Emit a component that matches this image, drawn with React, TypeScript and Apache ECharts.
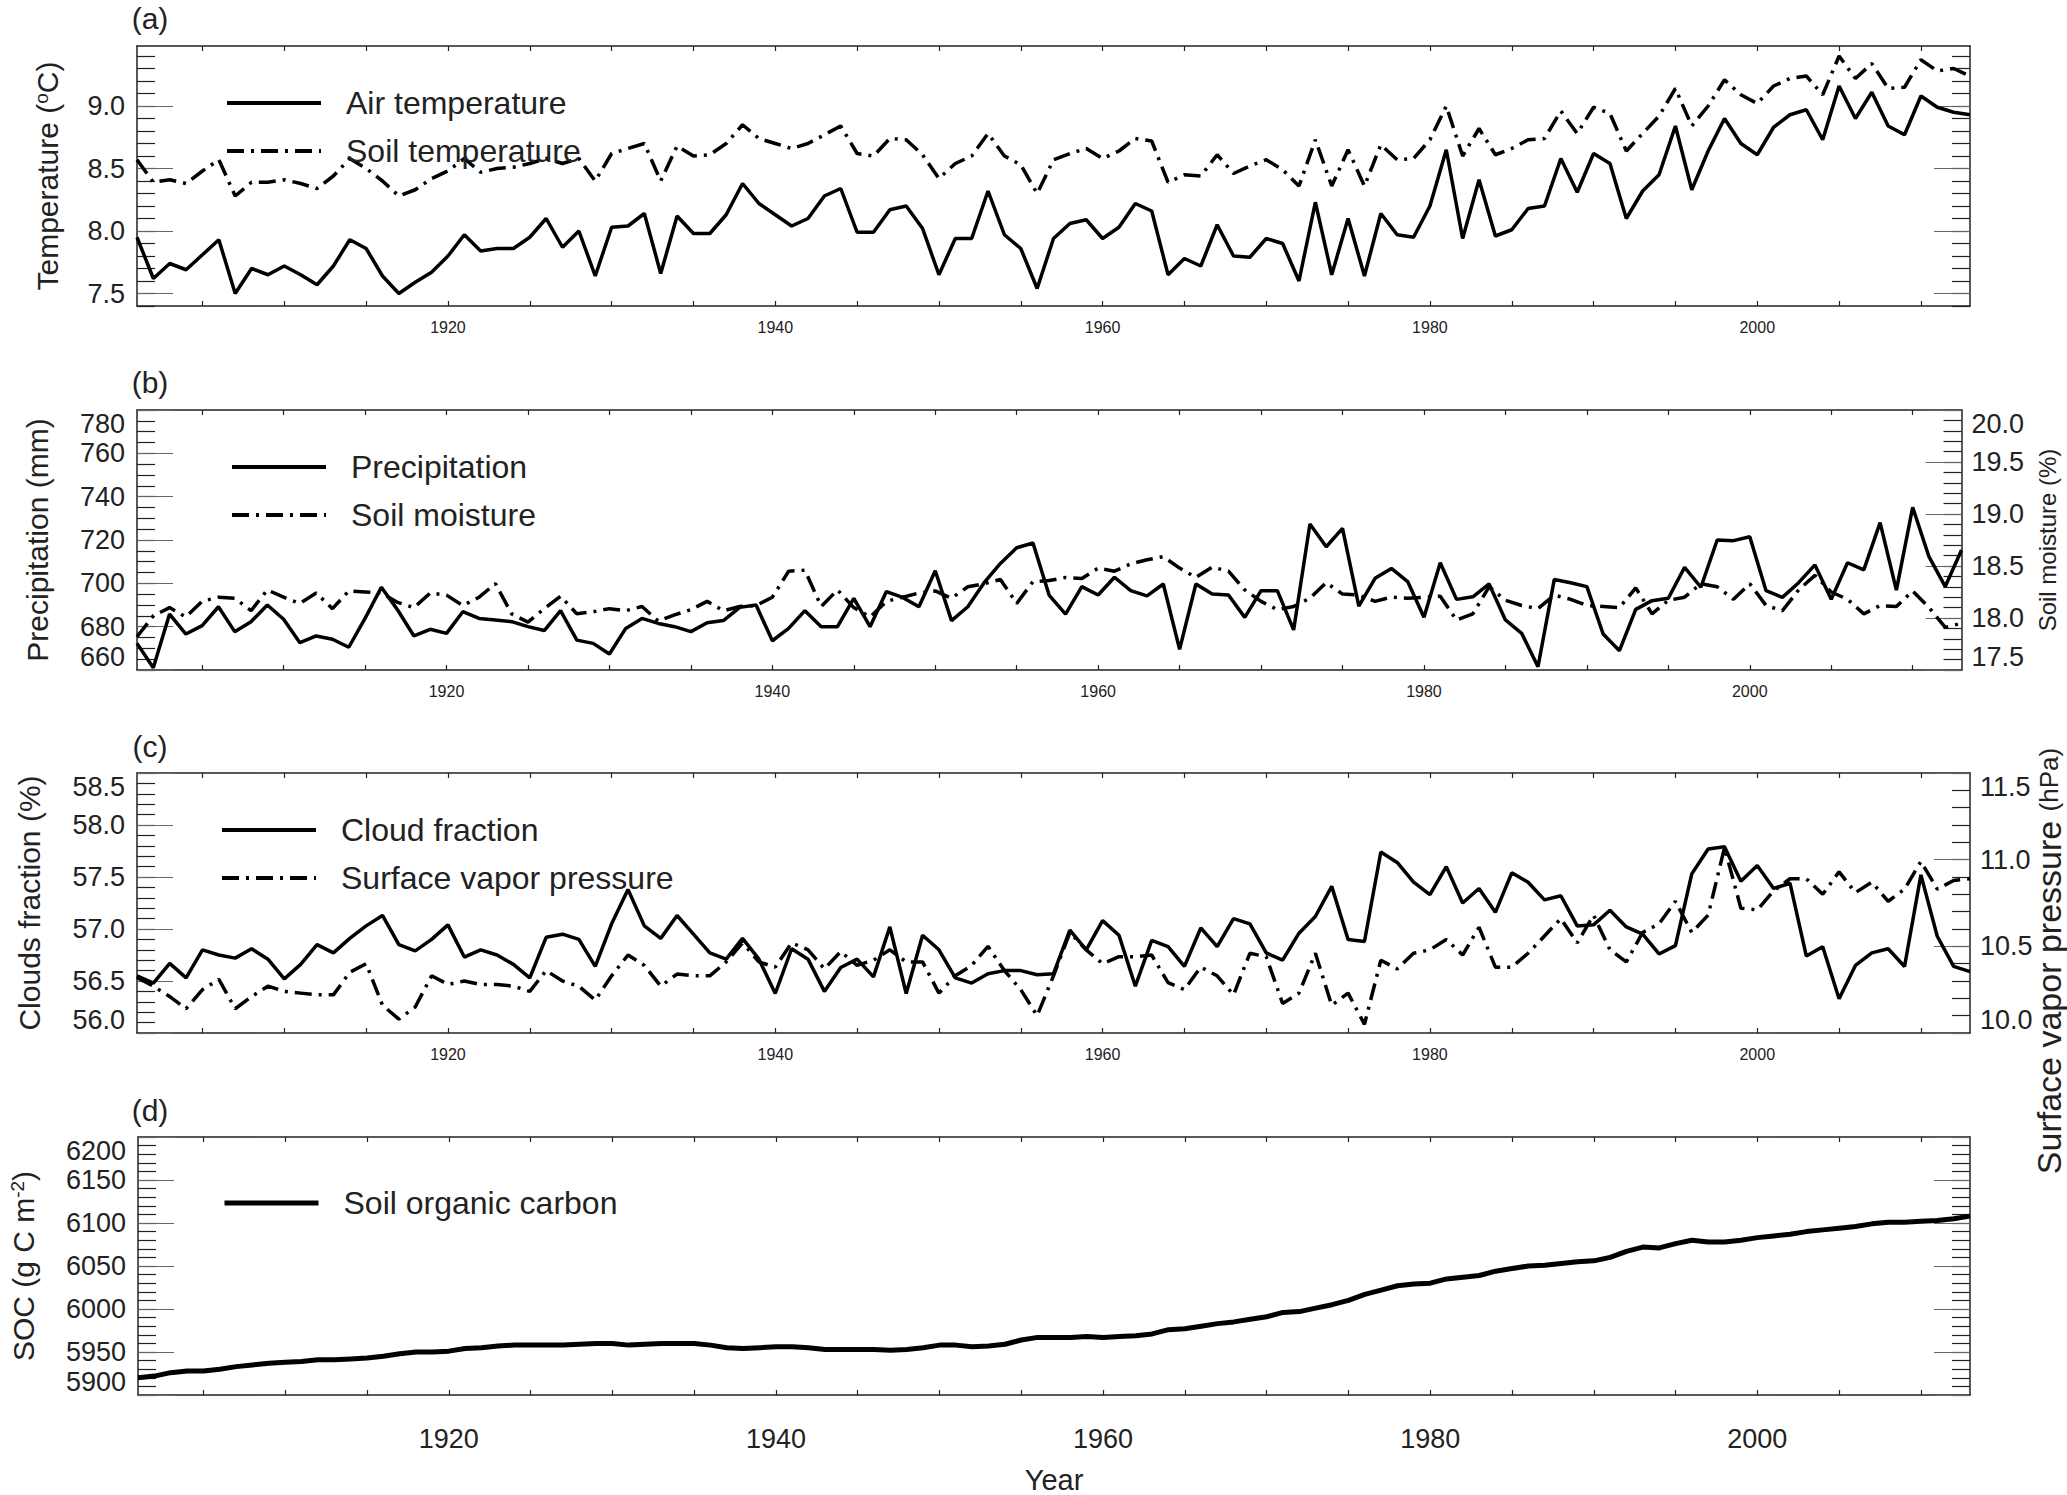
import React, { useEffect, useRef } from "react";
import * as echarts from "echarts";

// ---------------- data ----------------
const years: string[] = Array.from({ length: 113 }, (_, i) => String(1901 + i));
const yearLabelTicks = [1920, 1940, 1960, 1980, 2000];

const airTemp = [
  7.95, 7.62, 7.74, 7.69, 7.81, 7.93, 7.5, 7.7, 7.65, 7.72,
  7.65, 7.57, 7.72, 7.93, 7.86, 7.64, 7.5, 7.59, 7.67, 7.8,
  7.97, 7.84, 7.86, 7.86, 7.95, 8.1, 7.87, 8.0, 7.64, 8.03,
  8.04, 8.14, 7.66, 8.12, 7.98, 7.98, 8.13, 8.38, 8.22, 8.13,
  8.04, 8.1, 8.28, 8.34, 7.99, 7.99, 8.17, 8.2, 8.02, 7.65,
  7.94, 7.94, 8.32, 7.97, 7.86, 7.54, 7.94, 8.06, 8.09, 7.94,
  8.03, 8.22, 8.16, 7.65, 7.78, 7.72, 8.05, 7.8, 7.79, 7.94,
  7.9, 7.6, 8.23, 7.65, 8.1, 7.64, 8.14, 7.97, 7.95, 8.2,
  8.65, 7.94, 8.41, 7.96, 8.01, 8.18, 8.2, 8.58, 8.31, 8.62,
  8.54, 8.1, 8.32, 8.45, 8.84, 8.33, 8.64, 8.9, 8.7, 8.61,
  8.83, 8.93, 8.97, 8.73, 9.16, 8.9, 9.11, 8.84, 8.77, 9.08,
  8.99, 8.95, 8.93,
];

const soilTemp = [
  8.57, 8.39, 8.41, 8.38, 8.48, 8.57, 8.28, 8.39, 8.39, 8.41,
  8.38, 8.34, 8.44, 8.58, 8.5, 8.4, 8.28, 8.33, 8.42, 8.48,
  8.58, 8.47, 8.5, 8.51, 8.54, 8.58, 8.54, 8.58, 8.4, 8.62,
  8.66, 8.7, 8.4, 8.68, 8.6, 8.61, 8.7, 8.85, 8.74, 8.7,
  8.66, 8.7, 8.77, 8.84, 8.62, 8.6, 8.74, 8.73, 8.61, 8.42,
  8.54, 8.6, 8.78, 8.6, 8.53, 8.3, 8.57, 8.62, 8.66, 8.58,
  8.64, 8.74, 8.72, 8.39, 8.45, 8.44, 8.61, 8.46, 8.52, 8.57,
  8.49, 8.36, 8.73, 8.36, 8.65, 8.36, 8.69, 8.57, 8.58, 8.73,
  9.0, 8.6, 8.82, 8.61, 8.66, 8.73, 8.74, 8.96, 8.78, 8.99,
  8.94, 8.64, 8.78, 8.92, 9.14, 8.84, 9.0, 9.21, 9.09, 9.02,
  9.16, 9.22, 9.24, 9.09, 9.4, 9.22, 9.34, 9.14, 9.15, 9.37,
  9.28, 9.3, 9.24,
];

const precipitation = [
  672.3, 661.0, 685.8, 676.6, 680.5, 689.2, 677.7, 682.3, 690.0, 683.4,
  672.6, 675.7, 674.2, 670.5, 683.8, 698.2, 687.7, 675.7, 678.8, 676.9,
  686.9, 683.8, 683.1, 682.3, 680.0, 678.2, 687.4, 673.8, 672.3, 667.4,
  679.2, 683.8, 681.5, 680.0, 677.7, 681.8, 682.8, 688.9, 690.0, 673.5,
  679.2, 687.4, 680.0, 680.0, 693.1, 680.0, 696.2, 693.5, 689.2, 705.8,
  682.8, 689.2, 700.3, 709.2, 716.4, 718.6, 694.4, 685.8, 698.5, 694.6,
  702.8, 696.6, 694.2, 699.7, 669.5, 699.7, 695.1, 694.6, 684.3, 696.6,
  696.6, 678.5, 727.4, 716.9, 725.4, 689.5, 702.3, 706.9, 700.8, 684.3,
  709.5, 692.6, 693.8, 699.7, 683.1, 676.9, 661.5, 701.8, 700.3, 698.5,
  676.6, 668.9, 688.0, 692.0, 693.1, 707.4, 698.2, 720.0, 719.7, 721.5,
  696.6, 693.5, 700.3, 708.5, 692.6, 709.5, 706.2, 728.0, 696.9, 735.1,
  712.3, 698.5, 715.4,
];

const soilMoisture = [
  17.82, 18.02, 18.1, 18.01, 18.16, 18.2, 18.19, 18.07, 18.27, 18.2,
  18.14, 18.24, 18.09, 18.26, 18.25, 18.24, 18.15, 18.1, 18.24, 18.22,
  18.12, 18.2, 18.33, 18.04, 17.96, 18.09, 18.21, 18.04, 18.06, 18.09,
  18.07, 18.11, 17.97, 18.03, 18.08, 18.16, 18.07, 18.11, 18.12, 18.2,
  18.45, 18.46, 18.11, 18.27, 18.1, 18.01, 18.16, 18.2, 18.24, 18.26,
  18.19, 18.3, 18.33, 18.37, 18.14, 18.35, 18.36, 18.39, 18.38, 18.48,
  18.45, 18.52, 18.56, 18.59, 18.48, 18.39, 18.49, 18.45, 18.27, 18.16,
  18.08, 18.11, 18.19, 18.34, 18.23, 18.22, 18.16, 18.2, 18.19, 18.2,
  18.21, 17.98, 18.04, 18.3, 18.17, 18.12, 18.09, 18.22, 18.18, 18.12,
  18.11, 18.1, 18.29, 18.04, 18.17, 18.2, 18.33, 18.3, 18.18, 18.33,
  18.12, 18.07, 18.27, 18.41, 18.25, 18.18, 18.04, 18.12, 18.11, 18.26,
  18.1, 17.91, 17.95,
];

const cloudFraction = [
  56.55, 56.48, 56.67, 56.53, 56.8, 56.75, 56.72, 56.81, 56.71, 56.52,
  56.66, 56.85, 56.77, 56.91, 57.03, 57.13, 56.85, 56.79, 56.9, 57.04,
  56.73, 56.8, 56.75, 56.66, 56.53, 56.92, 56.95, 56.9, 56.64, 57.05,
  57.38, 57.03, 56.91, 57.13, 56.95, 56.77, 56.71, 56.91, 56.71, 56.38,
  56.81, 56.71, 56.4, 56.63, 56.71, 56.54, 57.02, 56.38, 56.94, 56.8,
  56.53, 56.48, 56.57, 56.6, 56.6, 56.56, 56.57, 56.99, 56.8, 57.08,
  56.94, 56.45, 56.89, 56.83, 56.64, 57.01, 56.83, 57.1, 57.05, 56.77,
  56.7, 56.96, 57.12, 57.41, 56.9, 56.88, 57.74, 57.64, 57.45, 57.33,
  57.6, 57.25, 57.39, 57.16, 57.54, 57.45, 57.28, 57.32, 57.03, 57.04,
  57.18, 57.02, 56.95, 56.76, 56.84, 57.53, 57.77, 57.79, 57.46, 57.61,
  57.39, 57.44, 56.74, 56.83, 56.33, 56.65, 56.77, 56.81, 56.64, 57.52,
  56.93, 56.64, 56.59,
];

const vaporPressure = [
  10.32, 10.27, 10.21, 10.14, 10.25, 10.31, 10.14, 10.21, 10.27, 10.24,
  10.23, 10.22, 10.22, 10.35, 10.4, 10.16, 10.08, 10.15, 10.33, 10.28,
  10.3, 10.28, 10.28, 10.27, 10.24, 10.36, 10.3, 10.27, 10.19, 10.33,
  10.45, 10.39, 10.27, 10.34, 10.33, 10.33, 10.41, 10.52, 10.41, 10.38,
  10.52, 10.48, 10.37, 10.47, 10.39, 10.42, 10.48, 10.41, 10.41, 10.23,
  10.33, 10.39, 10.5, 10.36, 10.25, 10.1, 10.33, 10.58, 10.48, 10.4,
  10.44, 10.44, 10.45, 10.29, 10.25, 10.38, 10.33, 10.22, 10.46, 10.44,
  10.17, 10.23, 10.46, 10.16, 10.23, 10.05, 10.42, 10.37, 10.46, 10.48,
  10.54, 10.45, 10.61, 10.38, 10.38, 10.46, 10.56, 10.66, 10.52, 10.68,
  10.48, 10.41, 10.58, 10.63, 10.76, 10.58, 10.68, 11.07, 10.72, 10.71,
  10.82, 10.89, 10.89, 10.8, 10.93, 10.81, 10.87, 10.76, 10.83, 10.99,
  10.83, 10.88, 10.89,
];

const soilOrganicCarbon = [
  5920, 5922, 5926, 5928, 5928, 5930, 5933, 5935, 5937, 5938,
  5939, 5941, 5941, 5942, 5943, 5945, 5948, 5950, 5950, 5951,
  5954, 5955, 5957, 5958, 5958, 5958, 5958, 5959, 5960, 5960,
  5958, 5959, 5960, 5960, 5960, 5958, 5955, 5954, 5955, 5956,
  5956, 5955, 5953, 5953, 5953, 5953, 5952, 5953, 5955, 5958,
  5958, 5956, 5957, 5959, 5964, 5967, 5967, 5967, 5968, 5967,
  5968, 5969, 5971, 5976, 5977, 5980, 5983, 5985, 5988, 5991,
  5996, 5997, 6001, 6005, 6010, 6017, 6022, 6027, 6029, 6030,
  6035, 6037, 6039, 6044, 6047, 6050, 6051, 6053, 6055, 6056,
  6060, 6067, 6072, 6071, 6076, 6080, 6078, 6078, 6080, 6083,
  6085, 6087, 6090, 6092, 6094, 6096, 6099, 6101, 6101, 6102,
  6103, 6105, 6108,
];

// tick label values
const tempTicks = [7.5, 8.0, 8.5, 9.0];
const precipTicks = [660, 680, 700, 720, 740, 760, 780];
const moistureTicks = [17.5, 18.0, 18.5, 19.0, 19.5, 20.0];
const cloudTicks = [56.0, 56.5, 57.0, 57.5, 58.0, 58.5];
const vaporTicks = [10.0, 10.5, 11.0, 11.5];
const socTicks = [5900, 5950, 6000, 6050, 6100, 6150, 6200];

// ---------------- styling helpers ----------------
const FONT = "'Liberation Sans', Arial, Helvetica, sans-serif";
const INK = "#222";
const DASHDOT = [17, 7, 3, 7];
const GRID_LEFT = 137;
const GRID_RIGHT = 97;
const GRID_H = 260;
const panelTops = [46, 410, 773, 1137];

function stepValues(min: number, max: number, step: number): number[] {
  const out: number[] = [];
  const n = Math.floor((max - min) / step + 1e-6);
  for (let i = 0; i <= n; i++) out.push(Math.round((min + i * step) * 1e6) / 1e6);
  return out;
}

function makeX(grid: number, pos: "top" | "bottom", showLabels: boolean, big: boolean, name?: string) {
  return {
    type: "category",
    gridIndex: grid,
    position: pos,
    data: years,
    boundaryGap: false,
    name: name,
    nameLocation: "middle",
    nameGap: 70,
    nameTextStyle: { fontSize: 29, color: INK, fontFamily: FONT },
    axisLine: { show: true, onZero: false, lineStyle: { color: INK, width: 1.5 } },
    axisTick: {
      show: true,
      inside: true,
      length: 5,
      interval: (_i: number, v: string) => Number(v) % 5 === 0,
      lineStyle: { color: INK, width: 1.2 },
    },
    axisLabel: {
      show: showLabels,
      interval: (_i: number, v: string) => yearLabelTicks.indexOf(Number(v)) >= 0,
      fontSize: big ? 27 : 16,
      color: INK,
      fontFamily: FONT,
      margin: big ? 30 : 13,
    },
    splitLine: { show: false },
  };
}

interface YSpec {
  min: number;
  max: number;
  minor: number;
  labels: number[];
  dec: number;
  showLabels: boolean;
  name?: string;
  nameGap?: number;
  nameSize?: number;
  edgeAlign?: boolean;
}

function makeY(grid: number, side: "left" | "right", s: YSpec) {
  const main: any = {
    type: "value",
    gridIndex: grid,
    position: side,
    min: s.min,
    max: s.max,
    name: s.name,
    nameLocation: "middle",
    nameGap: s.nameGap,
    nameTextStyle: {
      fontSize: s.nameSize || 30,
      color: INK,
      fontFamily: FONT,
      rich: { s: { fontSize: 19, verticalAlign: "top", color: INK, fontFamily: FONT } },
    },
    axisLine: { show: true, onZero: false, lineStyle: { color: INK, width: 1.5 } },
    axisTick: {
      show: true,
      inside: true,
      length: 18,
      customValues: stepValues(s.min, s.max, s.minor),
      lineStyle: { color: INK, width: 1.2 },
    },
    axisLabel: {
      show: s.showLabels,
      customValues: s.labels,
      formatter: (v: number) => v.toFixed(s.dec),
      fontSize: 27,
      color: INK,
      fontFamily: FONT,
      margin: side === "left" ? 12 : 10,
    },
    splitLine: { show: false },
  };
  if (s.edgeAlign) {
    main.axisLabel.verticalAlignMinLabel = "bottom";
    main.axisLabel.verticalAlignMaxLabel = "top";
  }
  const major = {
    type: "value",
    gridIndex: grid,
    position: side,
    min: s.min,
    max: s.max,
    axisLine: { show: false },
    axisTick: {
      show: true,
      inside: true,
      length: 36,
      customValues: s.labels,
      lineStyle: { color: "#666", width: 1.2 },
    },
    axisLabel: { show: false },
    splitLine: { show: false },
  };
  return [main, major];
}

function lineSeries(name: string, data: number[], grid: number, yIndex: number, dashed: boolean, width = 3.5) {
  return {
    type: "line",
    name,
    data,
    xAxisIndex: grid * 2,
    yAxisIndex: yIndex,
    symbol: "none",
    smooth: false,
    lineStyle: { color: "#000", width, type: dashed ? DASHDOT : "solid" },
    itemStyle: { color: "#000" },
    emphasis: { disabled: true },
  };
}

function legend(names: string[], left: number, firstRowY: number, width = 4) {
  return {
    orient: "vertical",
    left,
    top: firstRowY - 16,
    padding: 0,
    itemWidth: 94,
    itemHeight: 32,
    itemGap: 16,
    selectedMode: false,
    data: names,
    lineStyle: { width },
    itemStyle: { color: "rgba(0,0,0,0)", borderColor: "rgba(0,0,0,0)", borderWidth: 0, opacity: 0 },
    textStyle: { fontSize: 32, color: INK, fontFamily: FONT, padding: [0, 0, 0, 20], lineHeight: 32 },
  };
}

function buildOption() {
  const grids = panelTops.map((t) => ({ left: GRID_LEFT, right: GRID_RIGHT, top: t, height: GRID_H, containLabel: false }));

  const xAxis: any[] = [];
  for (let g = 0; g < 4; g++) {
    xAxis.push(makeX(g, "bottom", true, g === 3, g === 3 ? "Year" : undefined));
    xAxis.push(makeX(g, "top", false, false));
  }

  const yAxis: any[] = [];
  // panel a
  yAxis.push(...makeY(0, "left", { min: 7.4, max: 9.48, minor: 0.1, labels: tempTicks, dec: 1, showLabels: true, name: "Temperature ({s|o}C)", nameGap: 75 }));
  yAxis.push(...makeY(0, "right", { min: 7.4, max: 9.48, minor: 0.1, labels: tempTicks, dec: 1, showLabels: false }));
  // panel b
  yAxis.push(...makeY(1, "left", { min: 660, max: 780, minor: 5, labels: precipTicks, dec: 0, showLabels: true, name: "Precipitation (mm)", nameGap: 85, edgeAlign: true }));
  yAxis.push(...makeY(1, "right", { min: 17.5, max: 20.0, minor: 0.1, labels: moistureTicks, dec: 1, showLabels: true, name: "Soil moisture (%)", nameGap: 70, nameSize: 24, edgeAlign: true }));
  // panel c
  yAxis.push(...makeY(2, "left", { min: 56.0, max: 58.5, minor: 0.1, labels: cloudTicks, dec: 1, showLabels: true, name: "Clouds fraction (%)", nameGap: 93, edgeAlign: true }));
  yAxis.push(...makeY(2, "right", { min: 10.0, max: 11.5, minor: 0.1, labels: vaporTicks, dec: 1, showLabels: true, edgeAlign: true }));
  // panel d
  yAxis.push(...makeY(3, "left", { min: 5900, max: 6200, minor: 10, labels: socTicks, dec: 0, showLabels: true, name: "SOC (g C m{s|-2})", nameGap: 100, edgeAlign: true }));
  yAxis.push(...makeY(3, "right", { min: 5900, max: 6200, minor: 10, labels: socTicks, dec: 0, showLabels: false }));

  const series = [
    lineSeries("Air temperature", airTemp, 0, 0, false),
    lineSeries("Soil temperature", soilTemp, 0, 0, true),
    lineSeries("Precipitation", precipitation, 1, 4, false),
    lineSeries("Soil moisture", soilMoisture, 1, 6, true),
    lineSeries("Cloud fraction", cloudFraction, 2, 8, false),
    lineSeries("Surface vapor pressure", vaporPressure, 2, 10, true),
    lineSeries("Soil organic carbon", soilOrganicCarbon, 3, 12, false, 5),
  ];

  const legends = [
    legend(["Air temperature", "Soil temperature"], 225, 103),
    legend(["Precipitation", "Soil moisture"], 230, 467),
    legend(["Cloud fraction", "Surface vapor pressure"], 220, 830),
    legend(["Soil organic carbon"], 222, 1203, 5),
  ];

  const letters = ["(a)", "(b)", "(c)", "(d)"];
  const letterY = [18, 382, 746, 1110];
  const graphic: any[] = letters.map((t, i) => ({
    type: "text",
    x: 150,
    y: letterY[i],
    style: { text: t, fontSize: 30, fontFamily: FONT, fill: INK, align: "center", verticalAlign: "middle" },
  }));
  graphic.push({
    type: "text",
    x: 2049,
    y: 961,
    rotation: Math.PI / 2,
    style: {
      text: "{a|Surface vapor pressure} {b|(hPa)}",
      fill: INK,
      fontFamily: FONT,
      fontSize: 34,
      align: "center",
      verticalAlign: "middle",
      rich: {
        a: { fontSize: 34, fontFamily: FONT, fill: INK },
        b: { fontSize: 26, fontFamily: FONT, fill: INK },
      },
    },
  });

  return {
    animation: false,
    backgroundColor: "#fff",
    textStyle: { fontFamily: FONT, color: INK },
    grid: grids,
    xAxis,
    yAxis,
    series,
    legend: legends,
    graphic,
  };
}

export default function App() {
  const ref = useRef<HTMLDivElement | null>(null);
  useEffect(() => {
    if (!ref.current) return;
    const chart = echarts.init(ref.current, undefined, { renderer: "svg" });
    chart.setOption(buildOption() as any);
    return () => chart.dispose();
  }, []);
  return (
    <div
      ref={ref}
      style={{ position: "absolute", left: 0, top: 0, width: 2067, height: 1495, background: "#fff" }}
    />
  );
}
